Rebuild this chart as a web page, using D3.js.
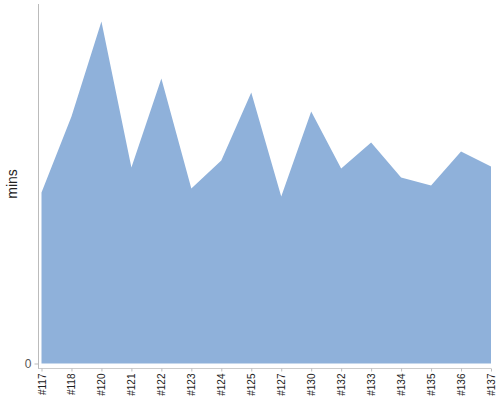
<!DOCTYPE html>
<html>
<head>
<meta charset="utf-8">
<script src="https://cdn.jsdelivr.net/npm/d3@7"></script>
<style>
  body { margin: 0; background: #fff; }
  svg { display: block; font-family: "Liberation Sans", Arial, sans-serif; }
</style>
</head>
<body>
<svg id="chart" width="500" height="400"></svg>
<script>
// builds, in order
const builds = ['#117', '#118', '#120', '#121', '#122', '#123', '#124', '#125',
                '#127', '#130', '#132', '#133', '#134', '#135', '#136', '#137'];
// duration per build (mins)
const mins = [17.1, 24.7, 34.2, 19.6, 28.5, 17.5, 20.3, 27.1,
              16.7, 25.2, 19.5, 22.1, 18.6, 17.8, 21.2, 19.7];
const yTicks = [0];

const width = 500, height = 400;
const margin = { top: 4, right: 9, bottom: 36, left: 41.5 };
const plotBottom = 363.5;

const svg = d3.select('#chart');

const x = d3.scalePoint()
  .domain(builds)
  .range([margin.left, width - margin.right]);

const y = d3.scaleLinear()
  .domain([0, 35.95])
  .range([plotBottom, margin.top]);

// area
const area = d3.area()
  .x((d, i) => x(builds[i]))
  .y0(y(0))
  .y1(d => y(d));

svg.append('path')
  .datum(mins)
  .attr('d', area)
  .attr('fill', '#8fb1da');

// y axis
const yAxis = svg.append('g')
  .attr('transform', 'translate(38.5,0)')
  .call(d3.axisLeft(y).tickValues(yTicks).tickSize(4).tickSizeOuter(0));
yAxis.select('.domain').remove();
yAxis.append('line')
  .attr('x1', 0).attr('x2', 0)
  .attr('y1', margin.top).attr('y2', 369)
  .attr('stroke', '#bbb');
yAxis.selectAll('.tick line').attr('stroke', '#bbb');
yAxis.selectAll('.tick text')
  .attr('fill', '#555')
  .style('font-size', '12px');

// x axis
const xAxis = svg.append('g')
  .attr('transform', 'translate(0,368.5)')
  .call(d3.axisBottom(x).tickSize(3).tickSizeOuter(0));
xAxis.select('.domain').attr('stroke', '#ccc').attr('d', `M38.5,0H${width - margin.right}`);
xAxis.selectAll('.tick line').attr('stroke', '#bbb');
xAxis.selectAll('.tick text')
  .attr('fill', '#222')
  .style('font-size', '10px')
  .attr('transform', 'rotate(-90)')
  .attr('text-anchor', 'end')
  .attr('x', -5)
  .attr('y', 0)
  .attr('dy', '0.35em');

// y label
svg.append('text')
  .attr('transform', `translate(17,${184}) rotate(-90)`)
  .attr('text-anchor', 'middle')
  .attr('fill', '#222')
  .style('font-size', '14px')
  .text('mins');
</script>
</body>
</html>
